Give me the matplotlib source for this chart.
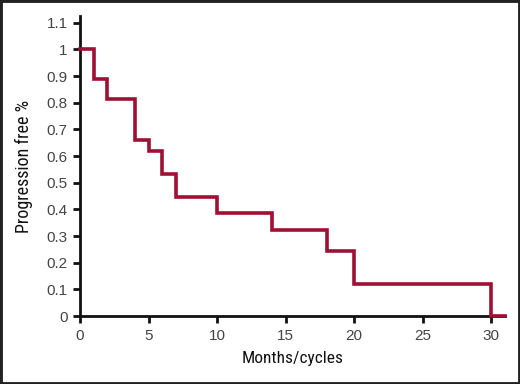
import matplotlib.pyplot as plt
from matplotlib.patches import Rectangle
from matplotlib import font_manager

# Kaplan-Meier style step data
months = [0, 1, 2, 4, 5, 6, 7, 10, 14, 18, 20, 30, 31]
progression_free = [1.0, 0.889, 0.815, 0.66, 0.62, 0.532, 0.445, 0.388, 0.323, 0.244, 0.121, 0.0, 0.0]

x_ticks = [0, 5, 10, 15, 20, 25, 30]
y_ticks = [0, 0.1, 0.2, 0.3, 0.4, 0.5, 0.6, 0.7, 0.8, 0.9, 1.0, 1.1]
y_tick_labels = ["0", "0.1", "0.2", "0.3", "0.4", "0.5", "0.6", "0.7", "0.8", "0.9", "1", "1.1"]

line_color = "#9e1034"

installed = {f.name for f in font_manager.fontManager.ttflist}
narrow = [f for f in ["Liberation Sans Narrow", "Roboto Condensed", "Open Sans Condensed", "Roboto"] if f in installed]
label_font = narrow[:1] + ["Liberation Sans", "DejaVu Sans"]

plt.rcParams["font.family"] = ["Liberation Sans", "DejaVu Sans"]

fig = plt.figure(figsize=(5.2, 3.84), dpi=100)
fig.patches.append(Rectangle((0, 0), 1, 1, transform=fig.transFigure,
                             fill=False, edgecolor="#222222", linewidth=3.5))

ax = fig.add_axes([0.154, 0.177, 0.817, 0.781])
ax.step(months, progression_free, where="post", color=line_color,
        linewidth=2.6, solid_joinstyle="miter", zorder=3, clip_on=False)

ax.set_xlim(0, 31)
ax.set_ylim(0, 1.125)
ax.set_xticks(x_ticks)
ax.set_yticks(y_ticks)
ax.set_yticklabels(y_tick_labels)

for side in ["top", "right"]:
    ax.spines[side].set_visible(False)
for side in ["left", "bottom"]:
    ax.spines[side].set_linewidth(2)
    ax.spines[side].set_color("#111111")

ax.tick_params(direction="out", length=5, width=2, color="#111111",
               labelsize=11, labelcolor="#444444", pad=4)

ax.set_xlabel("Months/cycles", fontsize=12.5, family=label_font,
              color="#111111", labelpad=6)
ax.set_ylabel("Progression free %", fontsize=13, family=label_font,
              color="#111111", labelpad=10)

fig.savefig("out.png", dpi=100)
